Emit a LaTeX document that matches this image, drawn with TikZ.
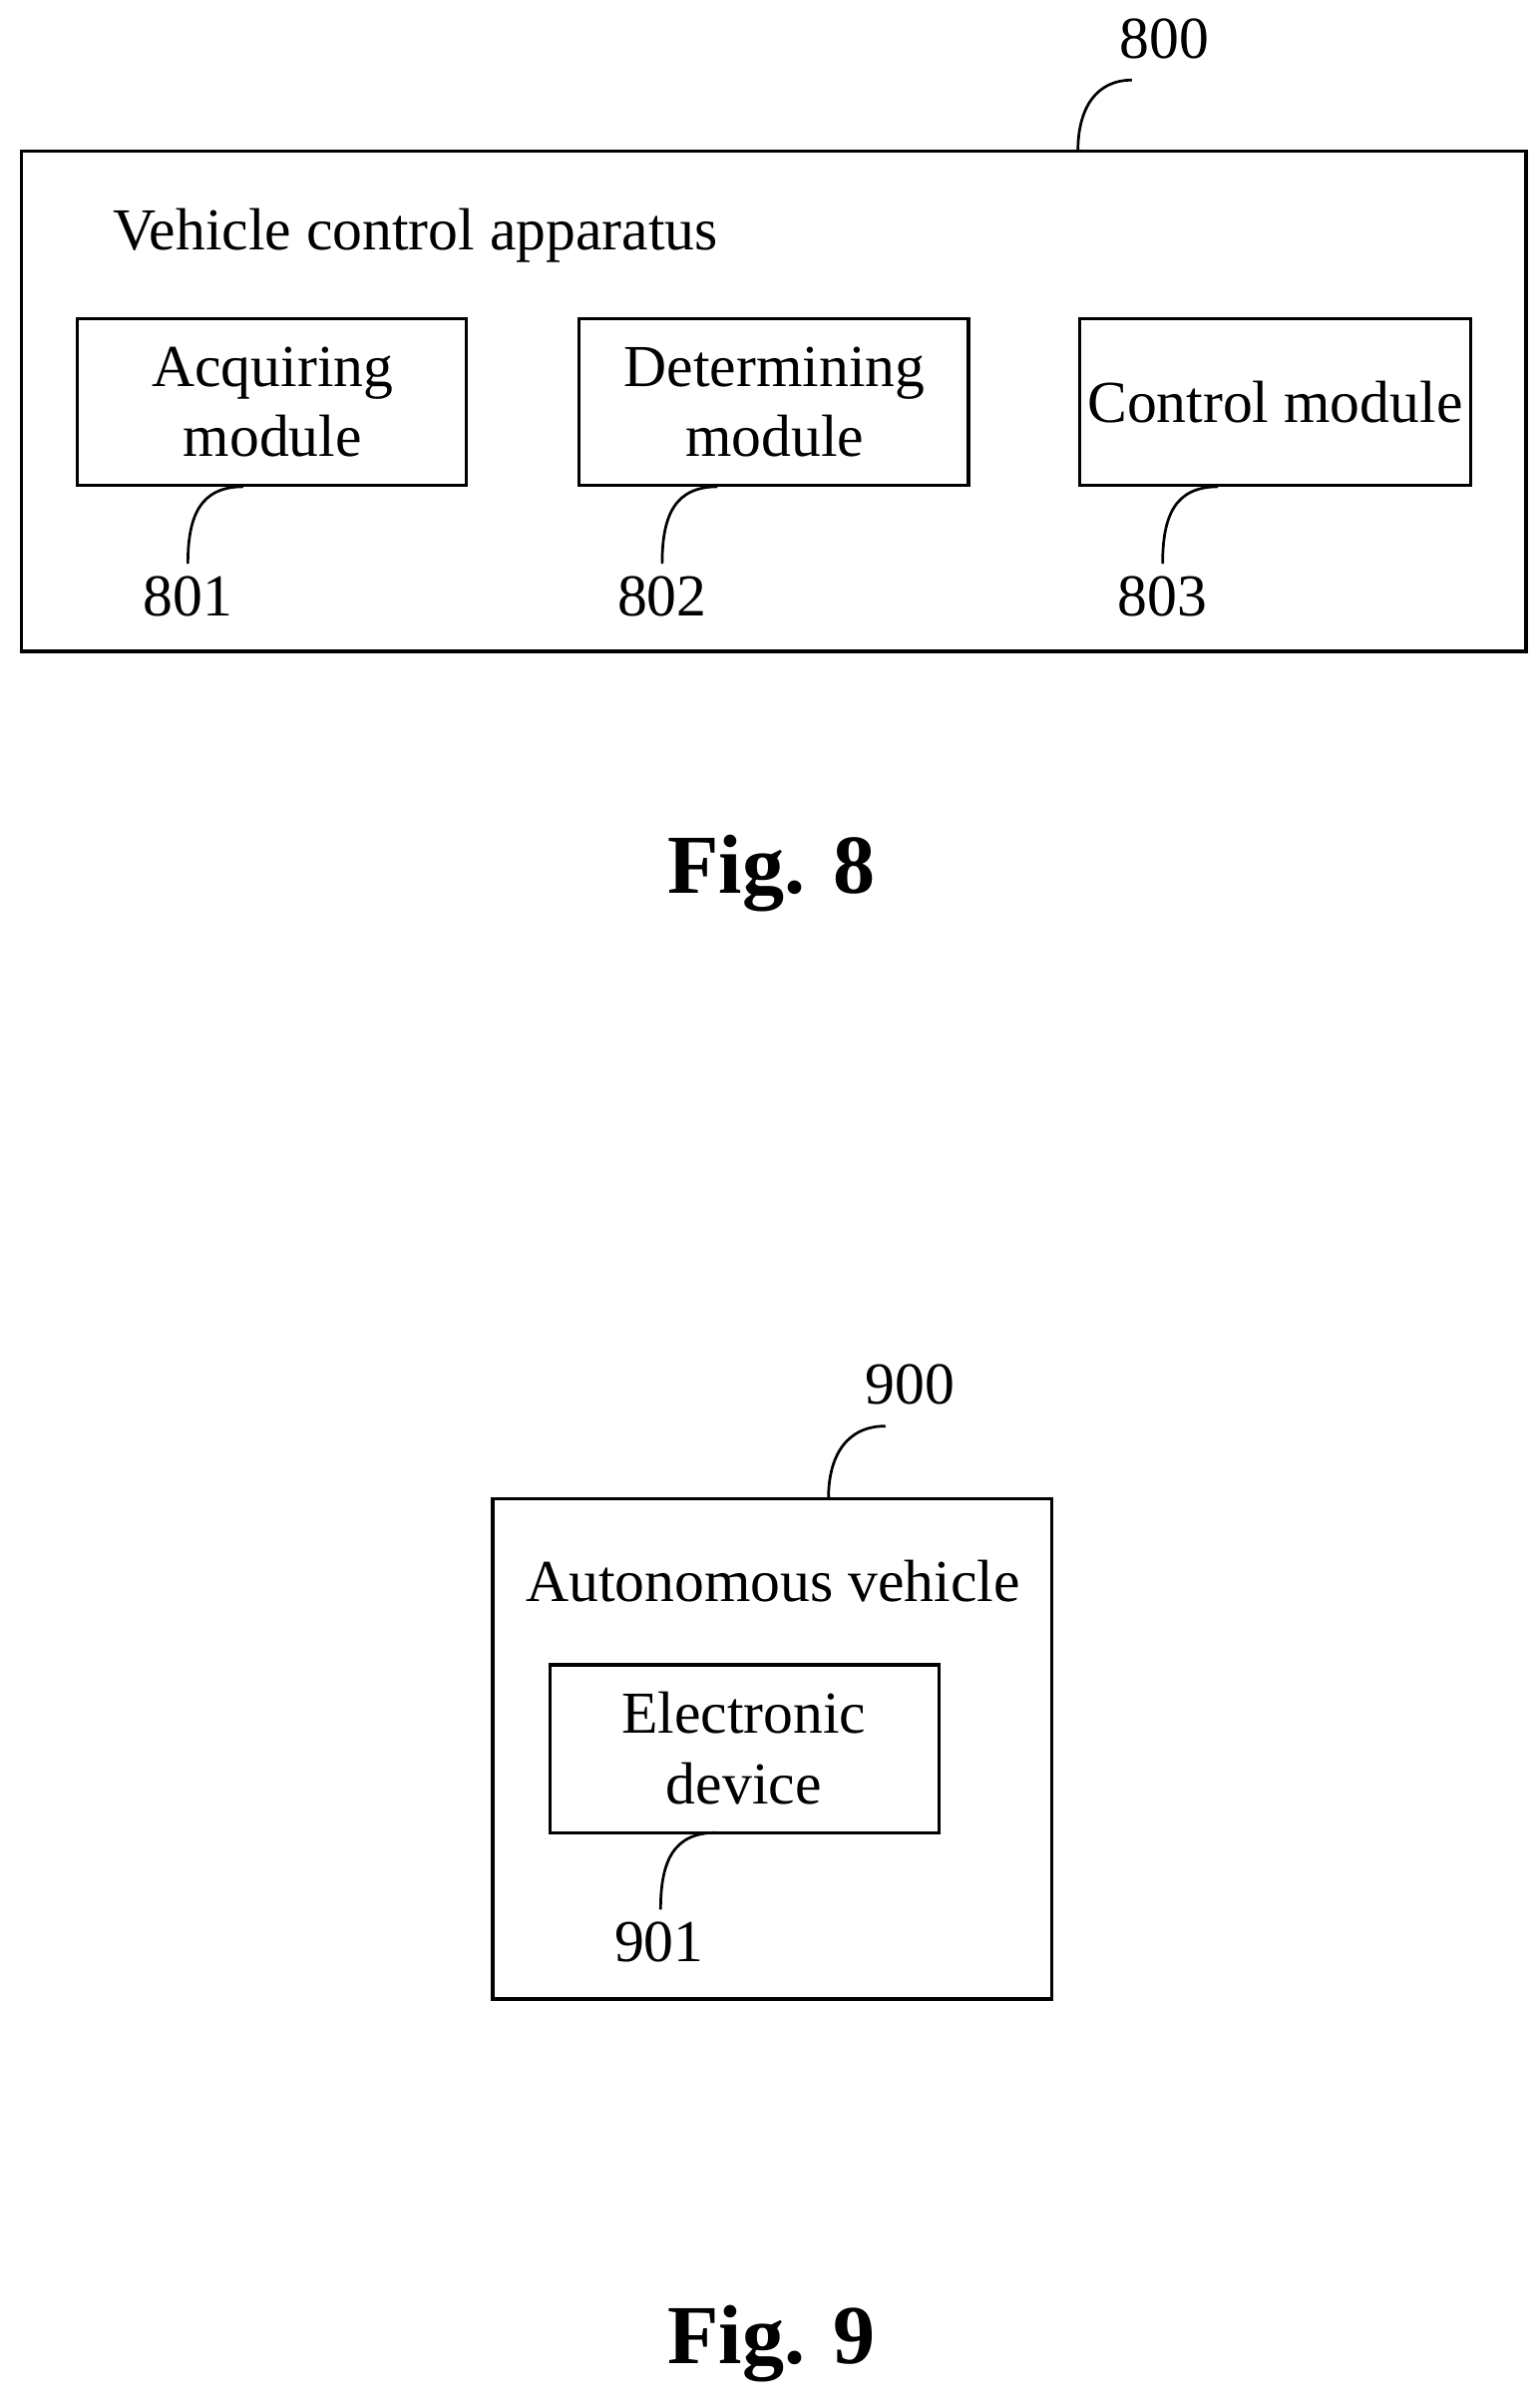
\documentclass[tikz,border=0pt]{standalone}
\usepackage{fontspec}
\setmainfont{Liberation Serif}
\begin{document}
\begin{tikzpicture}[x=0.02cm,y=-0.02cm,
  box/.style={draw,line width=1.2pt},
  t/.style={font=\fontsize{22}{26}\selectfont,align=center,inner sep=0},
  fig/.style={font=\fontsize{31}{36}\selectfont\bfseries,inner sep=0},
  lead/.style={line width=1pt}]
\useasboundingbox (0,0) rectangle (1000,1561);
\draw[box] (14,98) rectangle (991,423);
\node[t,anchor=west] (title) at (73,153) {Vehicle control apparatus};
\draw[box] (50,207) rectangle (303,315);
\node[t] (a) at (177,261) {Acquiring\\module};
\draw[box] (376,207) rectangle (629,315);
\node[t] (d) at (503,261) {Determining\\module};
\draw[box] (701,207) rectangle (955,315);
\node[t] (c) at (828,261) {Control module};
\node[t] (l800) at (756,25) {800};
\node[t] (l801) at (122,387) {801};
\node[t] (l802) at (430,387) {802};
\node[t] (l803) at (755,387) {803};
\draw[lead] (700,98) .. controls (700,70) and (712,52) .. (735,52);
\draw[lead] (158,316) .. controls (130,316) and (122,335) .. (122,366);
\draw[lead] (466,316) .. controls (438,316) and (430,335) .. (430,366);
\draw[lead] (791,316) .. controls (763,316) and (755,335) .. (755,366);
\node[fig] (f8) at (501,567) {Fig. 8};
\draw[box] (320,973) rectangle (683,1298);
\node[t] (av) at (502,1027) {Autonomous vehicle};
\draw[box] (357,1081) rectangle (610,1190);
\node[t] (ed) at (483,1135) {Electronic\\device};
\node[t] (l900) at (591,899) {900};
\node[t] (l901) at (428,1261) {901};
\draw[lead] (538,973) .. controls (538,945) and (550,926) .. (575,926);
\draw[lead] (465,1190) .. controls (437,1190) and (429,1209) .. (429,1240);
\node[fig] (f9) at (501,1522) {Fig. 9};
\end{tikzpicture}
\end{document}
